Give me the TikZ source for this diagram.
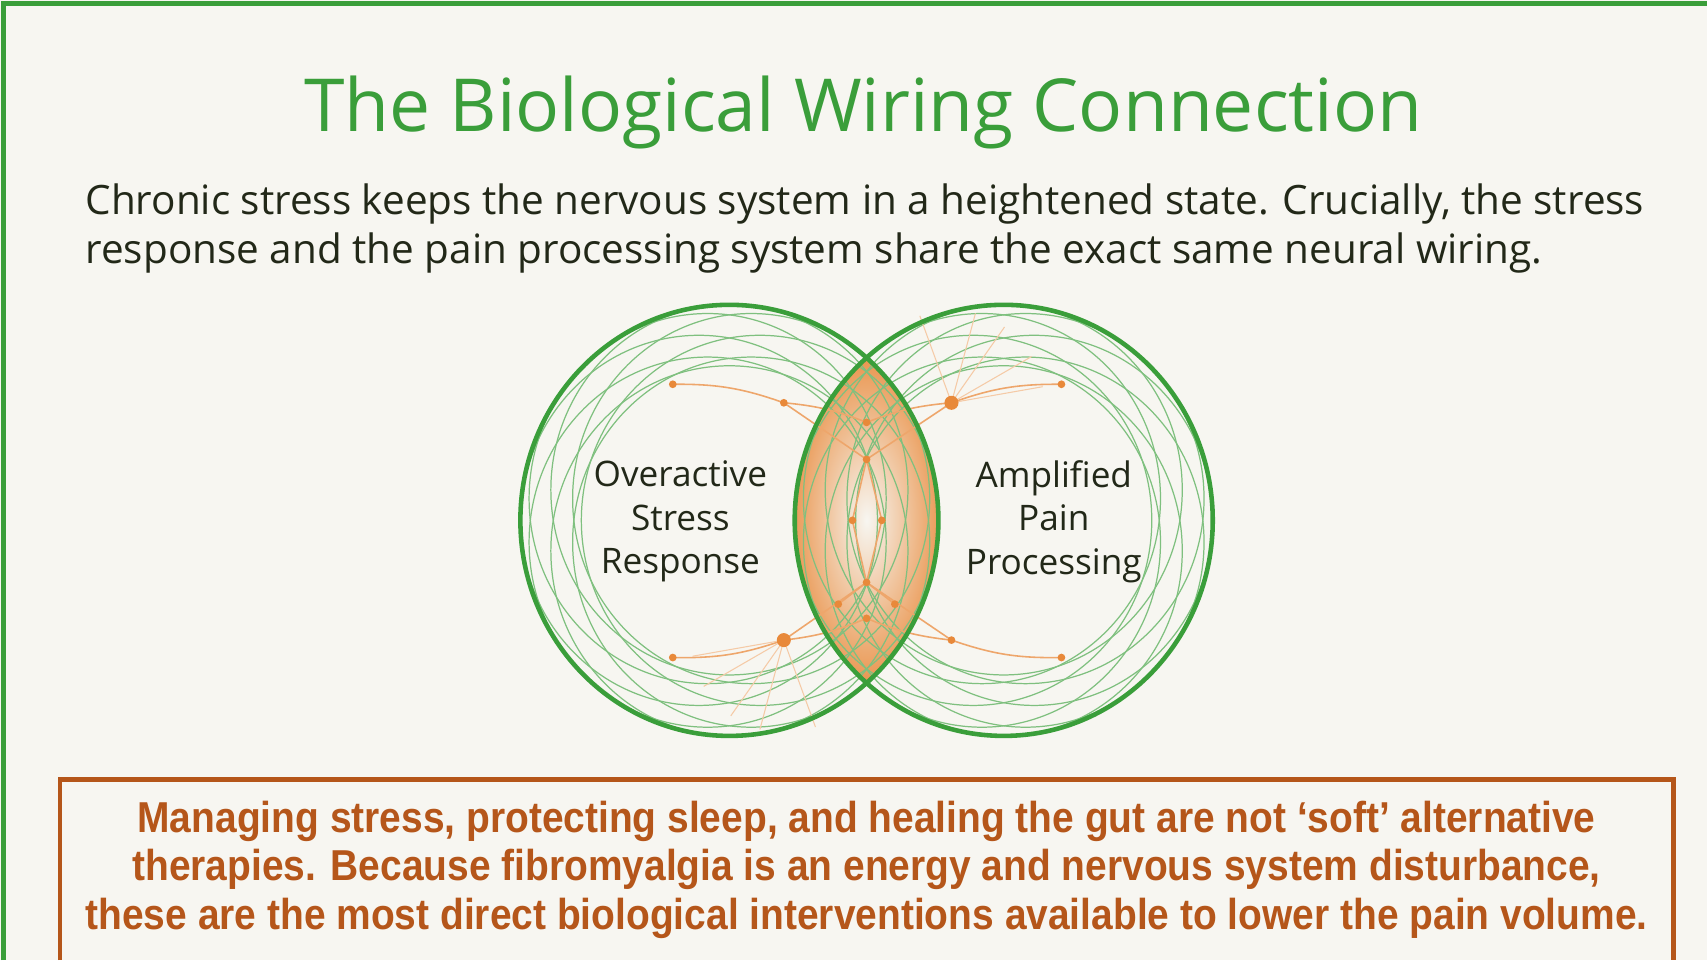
\documentclass[tikz,border=0pt]{standalone}
\usepackage{fontspec}
\setmainfont{Open Sans}
\newfontfamily\boxfont[FakeStretch=0.9]{Liberation Sans}
\usetikzlibrary{positioning}
\definecolor{paper}{HTML}{F7F6F1}
\definecolor{wiregreen}{HTML}{3A9E3A}
\definecolor{inkdark}{HTML}{222818}
\definecolor{burnt}{HTML}{B5561A}
\definecolor{nerve}{HTML}{E8893A}
\tikzset{
    ring/.style={draw=wiregreen, line width=1.3pt},
    thinring/.style={draw=wiregreen!65, line width=0.35pt},
    nerveline/.style={draw=nerve!75, line width=0.45pt},
    dot/.style={circle, fill=nerve, inner sep=0pt, minimum size=#1},
    dot/.default=2.2pt,
    label/.style={align=center, text=inkdark, font=\fontsize{10}{12.4}\selectfont}
}
\begin{document}
\begin{tikzpicture}[x=0.010886cm, y=-0.010886cm]
    \useasboundingbox (0,0) rectangle (1568,882);
    \fill[paper] (0,0) rectangle (1568,882);
    \draw[wiregreen, line width=1.5pt] (3,882) -- (3,3) -- (1568,3);

    % Heading and intro
    \node (title) [text=wiregreen, font=\fontsize{20.8}{26}\selectfont] at (793,103) {The Biological Wiring Connection};
    \node (intro) [text=inkdark, anchor=north west, align=left, inner sep=0pt,
        font=\fontsize{11.5}{14}\selectfont] at (78,168)
        {Chronic stress keeps the nervous system in a heightened state. Crucially, the stress\\
         response and the pain processing system share the exact same neural wiring.};

    % Overlap lens
    \begin{scope}
        \clip (670,478) ellipse (192 and 198);
        \clip (922,478) ellipse (192 and 198);
        \shade[inner color=paper, outer color=nerve] (796,478) ellipse (80 and 170);
    \end{scope}

    % Thin wiring rings
    \foreach \dx/\dy in {-28/0, 28/0, 0/-28, 0/28, -20/-20, 20/20, 20/-20, -20/20}{
        \draw[thinring] (670+\dx,478+\dy) ellipse (164 and 170);
        \draw[thinring] (922+\dx,478+\dy) ellipse (164 and 170);
    }

    % Nerve paths
    \draw[nerveline] (618,353) to[bend left=10] (720,370) to[bend left=8] (796,388) to[bend left=8] (874,370) to[bend left=10] (975,353);
    \draw[nerveline] (618,604) to[bend right=10] (720,588) to[bend right=8] (796,568) to[bend right=8] (874,588) to[bend right=10] (975,604);
    \draw[nerveline] (720,370) -- (796,422) -- (874,370);
    \draw[nerveline] (720,588) -- (796,535) -- (874,588);
    \draw[nerveline] (796,422) -- (783,478) -- (796,535);
    \draw[nerveline] (796,422) -- (810,478) -- (796,535);
    \draw[nerveline] (770,555) -- (796,535) -- (822,555);
    \foreach \a in {10,30,55,75,110}{
        \draw[nerveline, draw=nerve!45, line width=0.3pt] (874,370) -- ++({-\a}:85);
        \draw[nerveline, draw=nerve!45, line width=0.3pt] (720,588) -- ++({180-\a}:85);
    }
    \foreach \p in {(618,353),(720,370),(618,604),(874,588),(975,353),(975,604),(796,388),(796,422),(783,478),(810,478),(796,535),(796,568),(770,555),(822,555)}
        \node[dot] at \p {};
    \node[dot=4pt] (stresshub) at (720,588) {};
    \node[dot=4pt] (painhub) at (874,370) {};

    % Outer rings
    \draw[ring] (670,478) ellipse (192 and 198);
    \draw[ring] (922,478) ellipse (192 and 198);

    \node (stress) [label] at (625,479) {Overactive\\Stress\\Response};
    \node (pain) [label] at (968,479) {Amplified\\Pain\\Processing};

    % Takeaway box
    \draw[burnt, line width=1.3pt] (55,882) -- (55,716) -- (1537,716) -- (1537,882);
    \node (takeaway) [text=burnt, align=center, font=\boxfont\bfseries\fontsize{12.3}{13.8}\selectfont] at (796,799)
        {Managing stress, protecting sleep, and healing the gut are not ‘soft’ alternative\\
         therapies. Because fibromyalgia is an energy and nervous system disturbance,\\
         these are the most direct biological interventions available to lower the pain volume.};
\end{tikzpicture}
\end{document}
